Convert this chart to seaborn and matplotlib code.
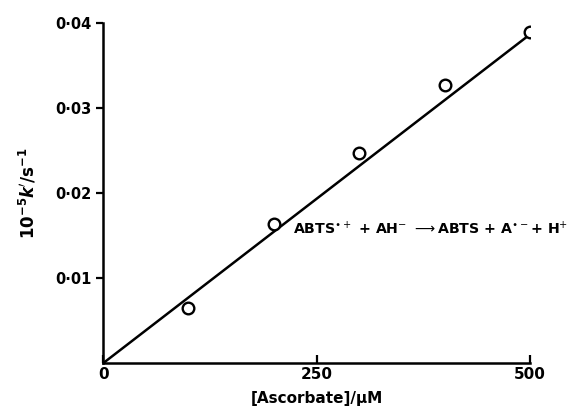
import matplotlib
matplotlib.use("Agg")
import matplotlib.pyplot as plt
import seaborn as sns
import pandas as pd

# data
ascorbate = [100, 200, 300, 400, 500]          # uM
k_obs = [0.0065, 0.0164, 0.0247, 0.0327, 0.0390]  # 10^-5 k' / s^-1
fit_x = [0, 500]
fit_y = [0, 0.0387]

xticks = [0, 250, 500]
xticklabels = ["0", "250", "500"]
yticks = [0.01, 0.02, 0.03, 0.04]
yticklabels = ["0·01", "0·02", "0·03", "0·04"]

sns.set_style("ticks")
plt.rcParams["font.family"] = ["DejaVu Sans"]
plt.rcParams["mathtext.fontset"] = "dejavusans"
plt.rcParams["text.color"] = "black"
plt.rcParams["axes.labelcolor"] = "black"
plt.rcParams["xtick.color"] = "black"
plt.rcParams["ytick.color"] = "black"

pts = pd.DataFrame({"x": ascorbate, "y": k_obs})
fit = pd.DataFrame({"x": fit_x, "y": fit_y})

fig = plt.figure(figsize=(5.76, 4.18), dpi=100)
ax = fig.add_axes([0.179, 0.131, 0.741, 0.813])

sns.lineplot(data=fit, x="x", y="y", ax=ax, color="black", lw=1.8)
sns.scatterplot(data=pts, x="x", y="y", ax=ax, marker="o", s=70,
                facecolor="white", edgecolor="black", linewidth=1.7, zorder=3)

ax.set_xlim(0, 500)
ax.set_ylim(0, 0.04)
ax.set_xticks(xticks)
ax.set_xticklabels(xticklabels, fontsize=11, fontweight="bold")
ax.set_yticks(yticks)
ax.set_yticklabels(yticklabels, fontsize=10.5, fontweight="bold")
ax.tick_params(direction="in", length=6, width=1.6, pad=3)
ax.tick_params(axis="y", direction="out", length=5)

for s in ["top", "right"]:
    ax.spines[s].set_visible(False)
for s in ["left", "bottom"]:
    ax.spines[s].set_linewidth(1.8)
    ax.spines[s].set_color("black")

ax.set_xlabel("[Ascorbate]/μM", fontsize=11, fontweight="bold", labelpad=6)
ax.set_ylabel(r"$\mathbf{10^{-5}}\mathbfit{k}\mathbf{'/s^{-1}}$", fontsize=12, labelpad=12)

ax.text(222, 0.0159,
        r"ABTS$^{\bullet+}$ + AH$^{-}$ $\longrightarrow$ABTS + A$^{\bullet-}$+ H$^{+}$",
        fontsize=10.2, fontweight="bold", va="center", ha="left", clip_on=False)

fig.savefig("out.png", dpi=100)
